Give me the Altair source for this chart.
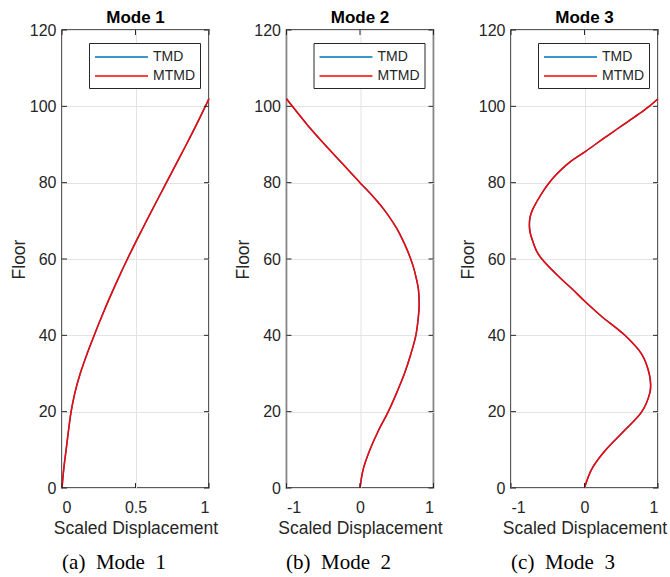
import altair as alt
import pandas as pd

# ---- data ----
series_names = ["TMD", "MTMD"]
series_colors = ["#0072BD", "#FF0000"]

mode1_floor = [0, 5, 10, 15, 20, 25, 30, 35, 40, 45, 50, 55, 60, 65, 70, 75, 80, 85, 90, 95, 100, 102]
mode1_disp = [0, 0.012, 0.028, 0.044, 0.062, 0.088, 0.124, 0.169, 0.219, 0.271, 0.326, 0.384, 0.445,
              0.509, 0.575, 0.642, 0.71, 0.778, 0.846, 0.912, 0.975, 1.0]

mode2_floor = [0, 5, 10, 15, 20, 25, 30, 35, 40, 45, 48, 52, 55, 58, 60, 62, 65, 68, 70, 73, 75, 78, 80,
               85, 90, 95, 100, 102]
mode2_disp = [0, 0.045, 0.135, 0.25, 0.385, 0.5, 0.605, 0.69, 0.76, 0.795, 0.805, 0.795, 0.765, 0.725,
              0.69, 0.65, 0.58, 0.5, 0.435, 0.325, 0.24, 0.1, 0.0, -0.24, -0.48, -0.71, -0.92, -1.0]

mode3_floor = [0, 5, 10, 15, 20, 25, 27, 30, 35, 40, 45, 49, 52, 55, 60, 62, 65, 67, 69, 71, 73, 75, 78,
               80, 82, 85, 88, 90, 93, 95, 98, 100, 102]
mode3_disp = [0, 0.1, 0.29, 0.54, 0.78, 0.89, 0.9, 0.88, 0.78, 0.55, 0.23, 0.0, -0.16, -0.33, -0.58,
              -0.65, -0.71, -0.74, -0.75, -0.74, -0.705, -0.65, -0.555, -0.48, -0.39, -0.225, 0.0, 0.145,
              0.365, 0.515, 0.74, 0.88, 1.0]

titles = ["Mode 1", "Mode 2", "Mode 3"]
captions = ["(a)\u2002Mode\u20021", "(b)\u2002Mode\u20022", "(c)\u2002Mode\u20023"]
x_domains = [[0, 1], [-1, 1], [-1, 1]]
x_ticks = [[0, 0.5, 1], [-1, 0, 1], [-1, 0, 1]]
y_ticks = [0, 20, 40, 60, 80, 100, 120]

modes = [(mode1_floor, mode1_disp), (mode2_floor, mode2_disp), (mode3_floor, mode3_disp)]

W, H = 147, 458
SANS = "Liberation Sans"
INK = "#262626"


def panel(i):
    floors, disp = modes[i]
    xsc = alt.Scale(domain=x_domains[i], nice=False, zero=False)
    ysc = alt.Scale(domain=[0, 120], nice=False)
    xaxis = alt.Axis(values=x_ticks[i], title="Scaled Displacement", labelExpr="toString(datum.value)",
                     grid=True, ticks=False, domain=False, labelPadding=11, titlePadding=4)
    yaxis = alt.Axis(values=y_ticks, title="Floor", grid=True, ticks=False, domain=False,
                     labelPadding=6, titlePadding=1)
    color = alt.Color(
        "series:N",
        scale=alt.Scale(domain=series_names, range=series_colors),
        legend=alt.Legend(
            title=None, orient="none", legendX=27, legendY=13,
            symbolType="M-1,0H5.625", symbolSize=256, symbolStrokeWidth=1.5,
            labelFont=SANS, labelFontSize=14, labelColor=INK, labelOffset=41,
            strokeColor=INK, fillColor="white", padding=5, rowPadding=3,
        ),
    )
    layers = []
    for s in series_names:
        df = pd.DataFrame({"floor": floors, "disp": disp, "series": s})
        layers.append(
            alt.Chart(df).mark_line(strokeWidth=1.5, interpolate="catmull-rom").encode(
                x=alt.X("disp:Q", scale=xsc, axis=xaxis),
                y=alt.Y("floor:Q", scale=ysc, axis=yaxis),
                order=alt.Order("floor:Q"),
                color=color,
            )
        )
    ydf = pd.DataFrame({"floor": y_ticks})
    xdf = pd.DataFrame({"disp": x_ticks[i]})
    yenc = alt.Y("floor:Q", scale=ysc, axis=yaxis)
    xenc = alt.X("disp:Q", scale=xsc, axis=xaxis)
    tick_l = alt.Chart(ydf).mark_rule(color=INK, strokeWidth=1).encode(y=yenc, x=alt.value(0), x2=alt.value(5))
    tick_r = alt.Chart(ydf).mark_rule(color=INK, strokeWidth=1).encode(y=yenc, x=alt.value(W - 5), x2=alt.value(W))
    tick_b = alt.Chart(xdf).mark_rule(color=INK, strokeWidth=1).encode(x=xenc, y=alt.value(H - 5), y2=alt.value(H))
    tick_t = alt.Chart(xdf).mark_rule(color=INK, strokeWidth=1).encode(x=xenc, y=alt.value(0), y2=alt.value(5))
    p = alt.layer(*layers, tick_l, tick_r, tick_b, tick_t).properties(
        width=W, height=H,
        title=alt.TitleParams(titles[i], font=SANS, fontSize=17, fontWeight="bold", color="black",
                              offset=-5, frame="group", anchor="middle"),
    )
    col = alt.vconcat(p, title=alt.TitleParams(captions[i], orient="bottom", font="Liberation Serif",
                                                fontSize=21, fontWeight="normal", color="black",
                                                offset=15, anchor="middle"))
    return col


chart = alt.hconcat(panel(0), panel(1), panel(2), spacing=14.5).resolve_scale(
    color="independent"
).resolve_legend(color="independent").properties(
    padding={"left": 9, "top": 8, "right": 0, "bottom": 0},
).configure_view(
    stroke=INK, strokeWidth=1.5
).configure_axis(
    labelFont=SANS, labelFontSize=16, labelColor=INK,
    titleFont=SANS, titleFontSize=17.5, titleFontWeight="normal", titleColor=INK,
    gridColor="#e3e3e3", gridWidth=1,
).configure_concat(spacing=0)

chart.save("out.html", embed_options={"renderer": "svg", "actions": False})
